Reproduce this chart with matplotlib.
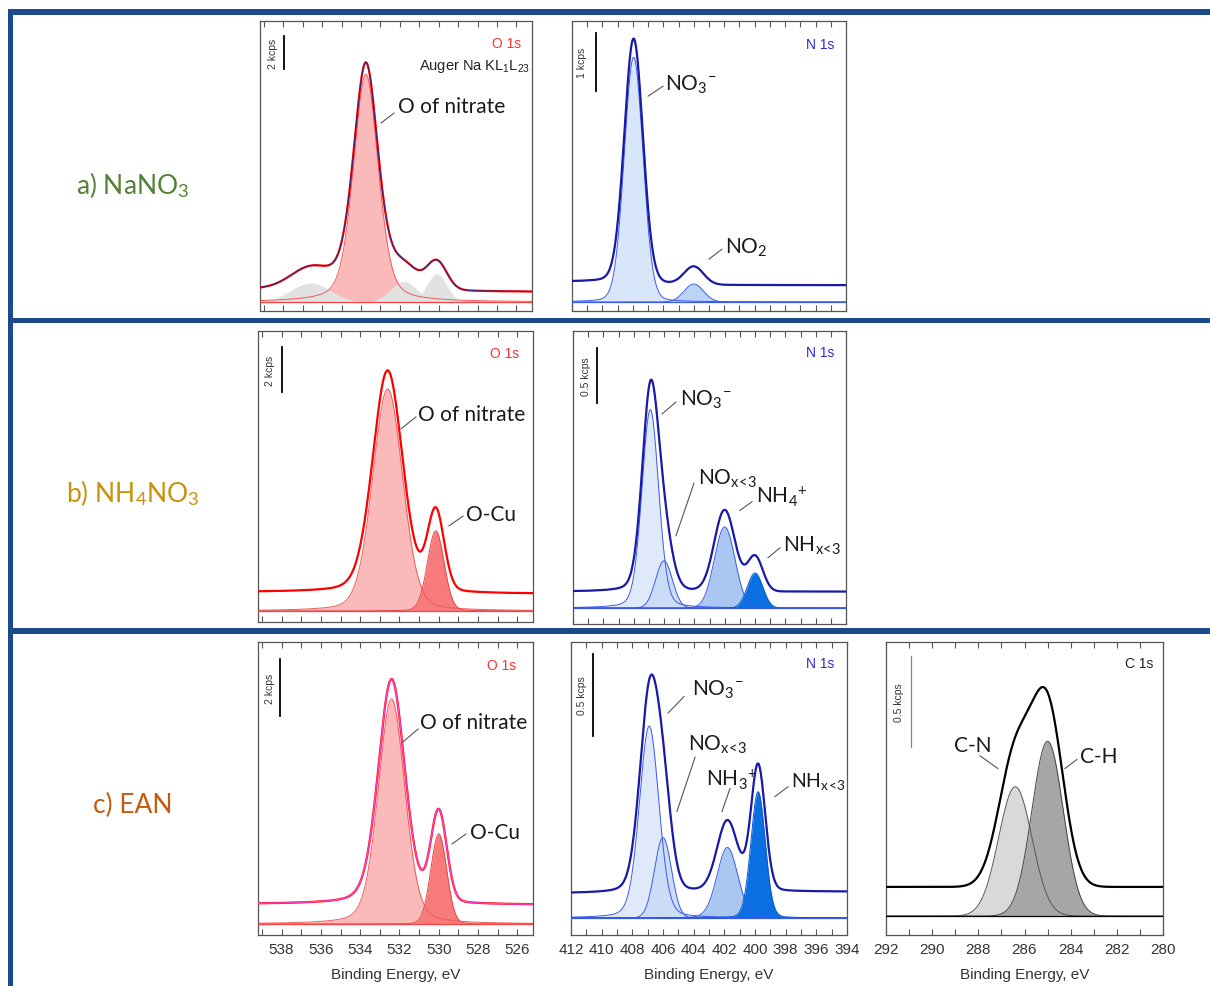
import numpy as np
import matplotlib
matplotlib.use("Agg")
import matplotlib.pyplot as plt
from matplotlib.ticker import MultipleLocator
from matplotlib.patches import Rectangle
from matplotlib.transforms import blended_transform_factory

plt.rcParams['font.family'] = ['Liberation Sans', 'DejaVu Sans']
plt.rcParams['mathtext.fontset'] = 'custom'
plt.rcParams['mathtext.rm'] = 'Lato'
plt.rcParams['mathtext.it'] = 'Lato:italic'
plt.rcParams['mathtext.bf'] = 'Lato:bold'
plt.rcParams['mathtext.sf'] = 'Liberation Sans'

W, H = 1210, 987

# ---- fitted peak parameters (binding energy eV, height kcps, fwhm eV, lorentz fraction)
# background given as (low-BE side, high-BE side) in kcps
O_RANGE = (539.2, 525.2)
N_RANGE = (412, 394)
C_RANGE = (292, 280)

a_O_centers = [533.75, 536.6, 531.8, 530.1]
a_O_heights = [13.8, 1.15, 1.25, 1.7]
a_O_fwhm = [1.5, 2.4, 1.6, 1.2]
a_O_eta = [0.35, 0.0, 0.0, 0.0]
a_O_bg = (0.6, 0.75)

a_N_centers = [407.95, 404.0]
a_N_heights = [4.22, 0.31]
a_N_fwhm = [1.45, 1.5]
a_N_eta = [0.1, 0.0]
a_N_bg = (0.29, 0.35)

b_O_centers = [532.6, 530.15]
b_O_heights = [9.87, 3.56]
b_O_fwhm = [1.8, 1.0]
b_O_eta = [0.2, 0.1]
b_O_bg = (0.76, 0.84)

b_N_centers = [406.9, 406.0, 402.0, 400.0]
b_N_heights = [1.81, 0.43, 0.74, 0.32]
b_N_fwhm = [1.3, 1.3, 1.6, 1.2]
b_N_eta = [0.2, 0.0, 0.0, 0.0]
b_N_bg = (0.15, 0.15)

c_O_centers = [532.4, 530.0]
c_O_heights = [7.9, 3.16]
c_O_fwhm = [1.6, 0.95]
c_O_eta = [0.25, 0.05]
c_O_bg = (0.67, 0.70)

c_N_centers = [406.9, 406.0, 401.8, 399.8]
c_N_heights = [1.17, 0.49, 0.43, 0.77]
c_N_fwhm = [1.5, 1.3, 1.6, 1.1]
c_N_eta = [0.2, 0.0, 0.1, 0.1]
c_N_bg = (0.16, 0.15)

c_C_centers = [286.4, 285.0]
c_C_heights = [0.71, 0.96]
c_C_fwhm = [1.7, 1.6]
c_C_eta = [0.0, 0.0]
c_C_bg = (0.16, 0.16)

row_labels = [r"a) NaNO$_3$", r"b) NH$_4$NO$_3$", "c) EAN"]
row_colors = ['#548235', '#c8930a', '#c55a11']

NOX = r"NO$_{\mathrm{x}\!<\!\mathrm{3}}$"
NHX = r"NH$_{\mathrm{x}\!<\!\mathrm{3}}$"


def pv(e, c, h, w, eta):
    x = (e - c) / w
    return h * ((1 - eta) * np.exp(-4 * np.log(2) * x ** 2) + eta / (1 + 4 * x ** 2))


def make_ax(box, xlim, ylim, labels=False):
    l, t, r, b = box
    ax = fig.add_axes([l / W, 1 - b / H, (r - l) / W, (b - t) / H])
    ax.set_xlim(*xlim)
    ax.set_ylim(*ylim)
    ax.set_yticks([])
    ax.xaxis.set_major_locator(MultipleLocator(2))
    ax.xaxis.set_minor_locator(MultipleLocator(1))
    ax.tick_params(axis='x', which='both', direction='in', top=True, length=4,
                   width=0.8, color='#555555', labelsize=11, labelcolor='#333333',
                   labelbottom=labels, pad=5)
    for s in ax.spines.values():
        s.set_color('#555555')
        s.set_linewidth(0.9)
    if labels:
        ax.set_xlabel("Binding Energy, eV", fontsize=11, color='#333333', labelpad=8)
    return ax


def spectrum(ax, xlim, centers, heights, fwhm, eta, bg, fills, edges,
             data_color, env_color, base_color, env_on_top=False, env_lw=0.7):
    e = np.linspace(xlim[0], xlim[1], 800)
    comps = [pv(e, c, h, w, n) for c, h, w, n in zip(centers, heights, fwhm, eta)]
    s = np.sum(comps, axis=0)
    cum = np.cumsum(s[::-1])[::-1]
    background = bg[0] + (bg[1] - bg[0]) * cum / cum[0]
    total = s + background
    for comp, fc, ec in zip(comps, fills, edges):
        ax.fill_between(e, 0, comp, color=fc, lw=0, zorder=1)
        if ec is not None:
            ax.plot(e, comp, color=ec, lw=0.7, zorder=2)
    ax.axhline(0, color=base_color, lw=0.9, zorder=3)
    ax.plot(e, total, color=data_color, lw=1.6, zorder=4)
    ax.plot(e, total, color=env_color, lw=env_lw, zorder=5 if env_on_top else 3.5)


def scalebar(ax, xf, y0, length, txt, tx, color='black', lw=1.3):
    tr = blended_transform_factory(ax.transAxes, ax.transData)
    ax.plot([xf, xf], [y0, y0 + length], color=color, lw=lw, transform=tr)
    ax.text(tx, y0 + length / 2, txt, rotation=90, ha='center', va='center',
            fontsize=7.5, color='#333333', transform=tr)


def label(ax, xy0, xy1, txt, pos, ha='left', size=15):
    ax.plot([xy0[0], xy1[0]], [xy0[1], xy1[1]], color='#555555', lw=0.8, zorder=6)
    ax.text(pos[0], pos[1], txt, ha=ha, va='center', fontsize=size,
            family=['Lato', 'DejaVu Sans'], color='#1a1a1a', zorder=7)


def tag(ax, xf, yf, txt, color):
    ax.text(xf, yf, txt, transform=ax.transAxes, ha='right', va='center',
            fontsize=10, color=color)


fig = plt.figure(figsize=(W / 100, H / 100), dpi=100)

# blue frame
frame = '#1c4a8c'
for (x0, y0, x1, y1) in [(8, 10, 1210, 16), (8, 10, 13, 987), (8, 319, 1210, 324), (8, 629, 1210, 635)]:
    fig.add_artist(Rectangle((x0 / W, 1 - y1 / H), (x1 - x0) / W, (y1 - y0) / H,
                             transform=fig.transFigure, color=frame, lw=0))

for lab, col, yy in zip(row_labels, row_colors, [185, 493, 805]):
    fig.text(133 / W, 1 - yy / H, lab, ha='center', va='center', fontsize=19,
             color=col, family=['Lato', 'DejaVu Sans'])

red_fill = ['#fbbaba', '#f77b7b']
red_edge = ['#f25a5a', '#e84848']
grey = '#e2e2e2'

# ---- row a
ax = make_ax((260, 22, 532, 312), O_RANGE, (-0.545, 17.03))
spectrum(ax, O_RANGE, a_O_centers, a_O_heights, a_O_fwhm, a_O_eta, a_O_bg,
         [red_fill[0], grey, grey, grey], [red_edge[0], None, None, None],
         '#ff0000', '#2a2a8a', '#ff4040', env_on_top=True)
scalebar(ax, 0.088, 14.12, 2, "2 kcps", 0.048)
tag(ax, 0.96, 0.924, "O 1s", '#ff3030')
ax.text(0.993, 0.845, r"Auger Na KL$_\mathsf{1}$L$_\mathsf{23}$", transform=ax.transAxes,
        ha='right', va='center', fontsize=10.5, color='#222222')
label(ax, (532.97, 10.85), (532.3, 11.45), "O of nitrate", (532.1, 11.88))

ax = make_ax((572, 22, 846, 312), N_RANGE, (-0.155, 4.845))
spectrum(ax, N_RANGE, a_N_centers, a_N_heights, a_N_fwhm, a_N_eta, a_N_bg,
         ['#d8e6f9', '#bcd4f4'], ['#3a5ae8', '#3a5ae8'],
         '#1a1aa8', '#3a5ae8', '#3a5ae8')
scalebar(ax, 0.088, 3.64, 1, "1 kcps", 0.036)
tag(ax, 0.956, 0.92, "N 1s", '#2a2ad0')
label(ax, (407.0, 3.55), (406.02, 3.72), r"NO$_3$$^{-}$", (405.9, 3.76))
label(ax, (403.0, 0.74), (402.15, 0.91), r"NO$_2$", (401.95, 0.95))

# ---- row b
ax = make_ax((258, 332, 533, 623), O_RANGE, (-0.489, 12.44))
spectrum(ax, O_RANGE, b_O_centers, b_O_heights, b_O_fwhm, b_O_eta, b_O_bg,
         red_fill, red_edge, '#ff0000', '#ff5050', '#ff4040')
scalebar(ax, 0.087, 9.73, 2, "2 kcps", 0.044)
tag(ax, 0.949, 0.924, "O 1s", '#ff3030')
label(ax, (531.92, 8.09), (531.16, 8.62), "O of nitrate", (531.05, 8.76))
label(ax, (529.48, 3.78), (528.76, 4.22), "O-Cu", (528.61, 4.31))

n_fill = ['#dfe9f9', '#cbdcf6', '#a9c7f1', '#0a6fe0']
n_edge = ['#3a5ae8', '#3a5ae8', '#3a5ae8', '#0a5cd0']
ax = make_ax((573, 332, 846, 625), N_RANGE, (-0.145, 2.527))
spectrum(ax, N_RANGE, b_N_centers, b_N_heights, b_N_fwhm, b_N_eta, b_N_bg,
         n_fill, n_edge, '#1a1aa8', '#3a5ae8', '#3a5ae8')
scalebar(ax, 0.088, 1.87, 0.5, "0.5 kcps", 0.047)
tag(ax, 0.956, 0.93, "N 1s", '#2a2ad0')
label(ax, (406.13, 1.77), (405.21, 1.88), r"NO$_3$$^{-}$", (404.95, 1.91))
label(ax, (405.21, 0.66), (404.02, 1.14), NOX, (403.76, 1.19))
label(ax, (401.0, 0.89), (400.2, 0.97), r"NH$_4$$^{+}$", (399.93, 1.02))
label(ax, (399.14, 0.46), (398.35, 0.55), NHX, (398.15, 0.58))

# ---- row c
ax = make_ax((258, 643, 533, 936), O_RANGE, (-0.386, 9.895), labels=True)
spectrum(ax, O_RANGE, c_O_centers, c_O_heights, c_O_fwhm, c_O_eta, c_O_bg,
         red_fill, red_edge, '#ff0000', '#ff40c0', '#ff4040', env_on_top=True, env_lw=1.0)
scalebar(ax, 0.08, 7.3, 2, "2 kcps", 0.044)
tag(ax, 0.938, 0.92, "O 1s", '#ff3030')
label(ax, (531.82, 6.39), (531.05, 6.84), "O of nitrate", (530.95, 7.09))
label(ax, (529.32, 2.81), (528.61, 3.16), "O-Cu", (528.41, 3.23))

ax = make_ax((571, 643, 847, 936), N_RANGE, (-0.104, 1.683), labels=True)
spectrum(ax, N_RANGE, c_N_centers, c_N_heights, c_N_fwhm, c_N_eta, c_N_bg,
         n_fill, n_edge, '#1a1aa8', '#3a5ae8', '#3a5ae8')
scalebar(ax, 0.08, 1.11, 0.5, "0.5 kcps", 0.04)
tag(ax, 0.953, 0.928, "N 1s", '#2a2ad0')
label(ax, (405.67, 1.25), (404.63, 1.35), r"NO$_3$$^{-}$", (404.11, 1.40))
label(ax, (405.09, 0.65), (403.91, 0.98), NOX, (404.37, 1.06))
label(ax, (402.15, 0.65), (401.63, 0.79), r"NH$_3$$^{+}$", (403.2, 0.85))
label(ax, (398.7, 0.74), (397.85, 0.80), NHX, (397.65, 0.84), size=14)

ax = make_ax((886, 643, 1163, 936), C_RANGE, (-0.104, 1.505), labels=True)
spectrum(ax, C_RANGE, c_C_centers, c_C_heights, c_C_fwhm, c_C_eta, c_C_bg,
         ['#d9d9d9', '#a6a6a6'], ['#555555', '#444444'],
         '#000000', '#888888', '#000000')
scalebar(ax, 0.09, 0.93, 0.5, "0.5 kcps", 0.047, color='#888888', lw=0.9)
tag(ax, 0.964, 0.928, "C 1s", '#222222')
label(ax, (287.93, 0.88), (287.15, 0.81), "C-N", (288.23, 0.94), ha='center')
label(ax, (284.25, 0.81), (283.73, 0.86), "C-H", (283.6, 0.88))

fig.savefig("out.png", dpi=100)
